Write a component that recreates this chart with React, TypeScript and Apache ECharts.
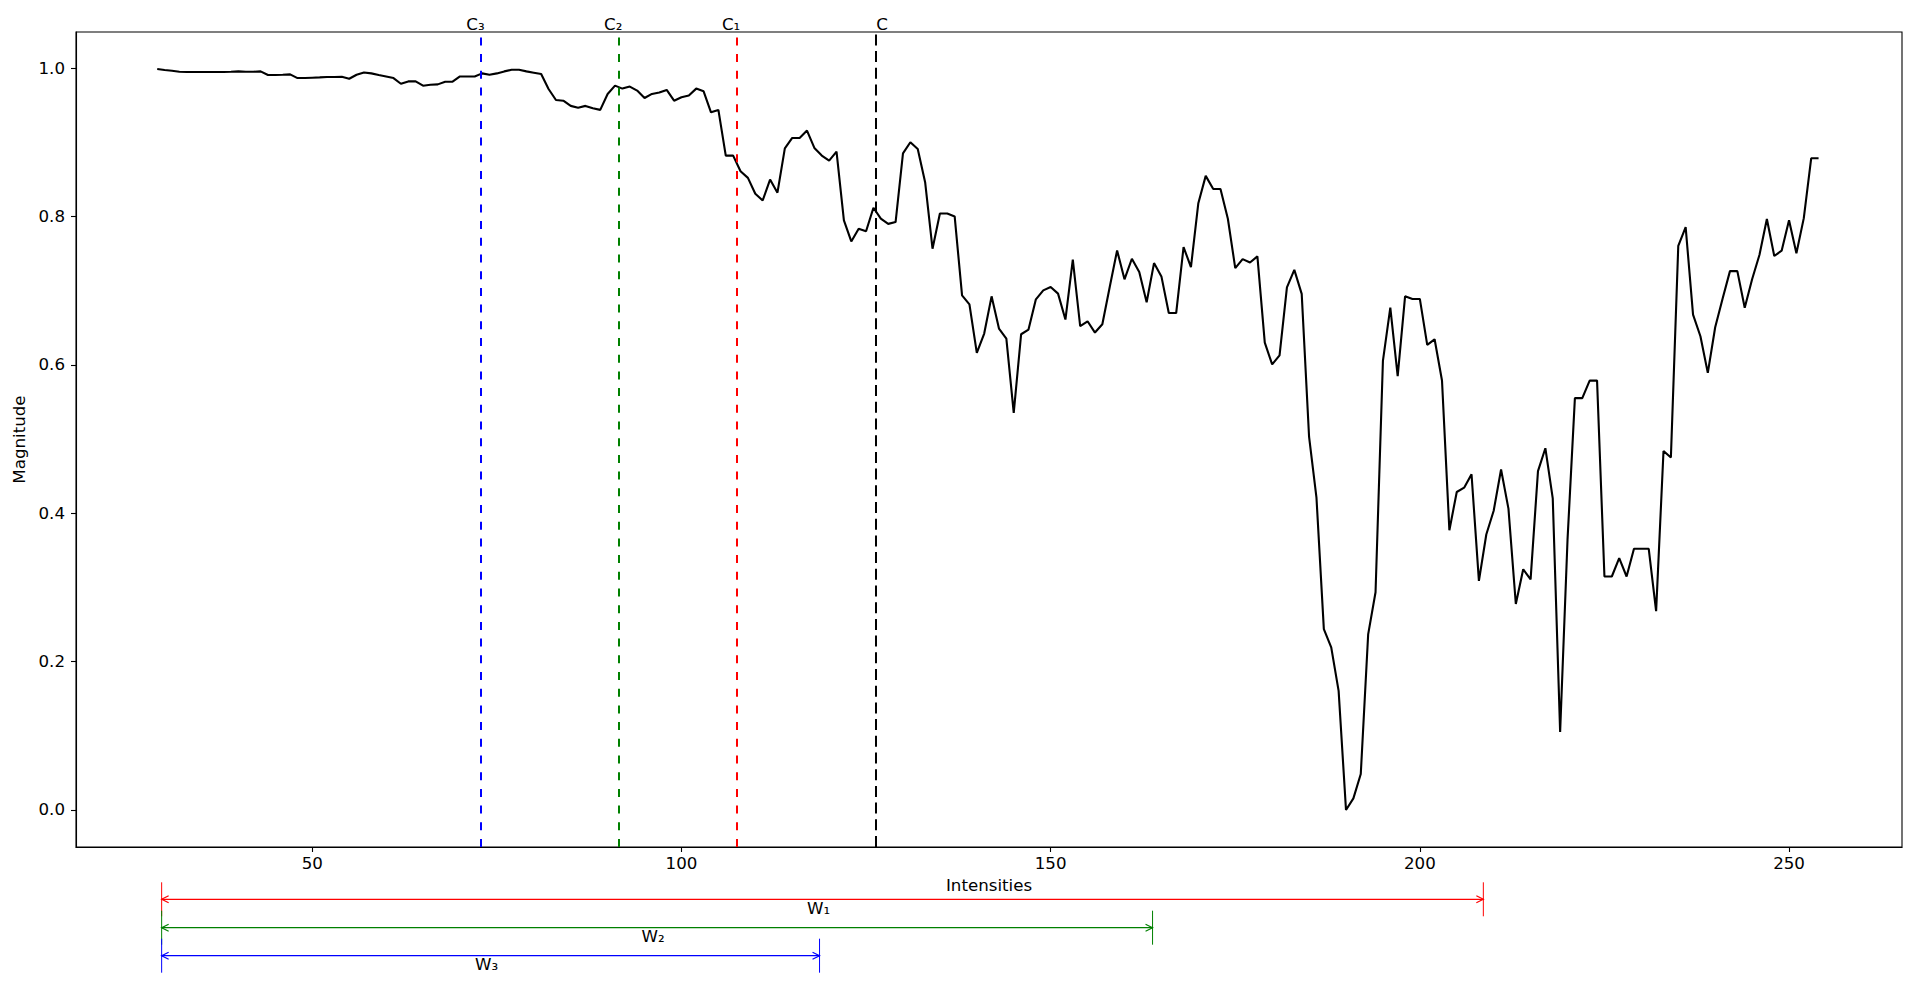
import React, { useEffect, useRef } from "react";
import * as echarts from "echarts";

// ---------- data ----------
const intensityStart = 29; // first intensity value; one sample per integer intensity
const magnitudes = [
  0.9987, 0.9973, 0.9964, 0.995, 0.9946, 0.9946, 0.9946, 0.9946, 0.9946, 0.9946,
  0.995, 0.9955, 0.995, 0.995, 0.9955, 0.9906, 0.9906, 0.991, 0.9915, 0.9865,
  0.9865, 0.987, 0.9874, 0.9879, 0.9879, 0.9883, 0.9856, 0.991, 0.9941, 0.9928,
  0.9906, 0.9887, 0.9865, 0.9789, 0.982, 0.982, 0.9762, 0.9775, 0.978, 0.9816,
  0.9816, 0.9887, 0.9887, 0.9887, 0.9928, 0.991, 0.9928, 0.9955, 0.9977, 0.9977,
  0.9955, 0.9937, 0.9919, 0.9718, 0.9569, 0.956, 0.949, 0.9466, 0.949, 0.9457,
  0.9436, 0.9651, 0.9763, 0.9723, 0.975, 0.9696, 0.9597, 0.9651, 0.967, 0.9705,
  0.956, 0.9606, 0.963, 0.9723, 0.9687, 0.9403, 0.9436, 0.882, 0.882, 0.861,
  0.852, 0.8305, 0.8215, 0.8497, 0.832, 0.8918, 0.9058, 0.9058, 0.9157, 0.8923,
  0.882, 0.8753, 0.8874, 0.7948, 0.7663, 0.7834, 0.78, 0.8117, 0.797, 0.79,
  0.7924, 0.8851, 0.9, 0.891, 0.8461, 0.7565, 0.804, 0.804, 0.8, 0.6937,
  0.6815, 0.616, 0.6422, 0.6923, 0.6489, 0.6354, 0.5353, 0.6412, 0.6475, 0.6883,
  0.7004, 0.7048, 0.696, 0.661, 0.7417, 0.652, 0.6587, 0.6435, 0.6547, 0.7048,
  0.7542, 0.7152, 0.743, 0.725, 0.6843, 0.7371, 0.7192, 0.6698, 0.6698, 0.7587,
  0.7317, 0.8178, 0.8547, 0.8372, 0.837, 0.7969, 0.7304, 0.7425, 0.738, 0.7461,
  0.63, 0.6005, 0.6127, 0.7045, 0.7279, 0.6957, 0.5028, 0.4209, 0.2437, 0.2191,
  0.1606, 0.0, 0.0156, 0.0484, 0.2366, 0.2934, 0.6052, 0.6771, 0.5847, 0.6923,
  0.6888, 0.6888, 0.6268, 0.6344, 0.5789, 0.3771, 0.4286, 0.4344, 0.4525, 0.3087,
  0.3713, 0.4033, 0.4589, 0.4062, 0.2776, 0.3244, 0.3109, 0.4567, 0.4876, 0.42,
  0.1051, 0.364, 0.5551, 0.5551, 0.5787, 0.5787, 0.3147, 0.3147, 0.3394, 0.3147,
  0.352, 0.352, 0.352, 0.268, 0.4838, 0.475, 0.7604, 0.7856, 0.6676, 0.6385,
  0.5891, 0.6506, 0.689, 0.7263, 0.7263, 0.677, 0.7154, 0.7483, 0.7966, 0.7467,
  0.7538, 0.795, 0.7505, 0.7977, 0.8784, 0.8784,
];

const xTicks = [50, 100, 150, 200, 250];
const yTicks = [0.0, 0.2, 0.4, 0.6, 0.8, 1.0];
const xRange = [18.0, 265.3];
const yRange = [-0.0499, 1.0486];

// vertical reference lines
const centerLabels = ["C₃", "C₂", "C₁", "C"];
const centerValues = [72.78, 91.47, 107.44, 126.26];
const centerColors = ["#0000ff", "#008000", "#ff0000", "#000000"];

// width arrows below the axis
const widthLabels = ["W₁", "W₂", "W₃"];
const widthStart = 29.6;
const widthEnds = [208.6, 163.8, 118.7];
const widthColors = ["#ff0000", "#008000", "#0000ff"];

const FONT = "DejaVu Sans";
const FS = 16.67;

export default function App() {
  const ref = useRef<HTMLDivElement>(null);

  useEffect(() => {
    if (!ref.current) return;
    const chart = echarts.init(ref.current, null, { renderer: "svg" });
    const seriesData = magnitudes.map((v, i) => [intensityStart + i, v]);

    chart.setOption({
      animation: false,
      backgroundColor: "#ffffff",
      textStyle: { fontFamily: FONT },
      grid: {
        left: 76,
        right: 18,
        top: 32,
        bottom: 136,
        show: true,
        borderColor: "#000000",
        borderWidth: 1.1,
        backgroundColor: "transparent",
      },
      xAxis: {
        type: "value",
        min: xRange[0],
        max: xRange[1],
        name: "Intensities",
        nameLocation: "middle",
        nameGap: 29,
        nameTextStyle: { fontFamily: FONT, fontSize: FS, color: "#000" },
        axisLine: { show: true, onZero: false, lineStyle: { color: "#000", width: 1.1 } },
        axisTick: { show: true, inside: false, length: 5, customValues: xTicks, lineStyle: { color: "#000", width: 1.1 } },
        axisLabel: {
          show: true,
          customValues: xTicks,
          margin: 8,
          fontFamily: FONT,
          fontSize: FS,
          color: "#000",
          formatter: (v: number) => String(v),
        },
        splitLine: { show: false },
      },
      yAxis: {
        type: "value",
        min: yRange[0],
        max: yRange[1],
        name: "Magnitude",
        nameLocation: "middle",
        nameGap: 37,
        nameRotate: 90,
        nameTextStyle: { fontFamily: FONT, fontSize: FS, color: "#000" },
        axisLine: { show: true, onZero: false, lineStyle: { color: "#000", width: 1.1 } },
        axisTick: { show: true, inside: false, length: 5, customValues: yTicks, lineStyle: { color: "#000", width: 1.1 } },
        axisLabel: {
          show: true,
          customValues: yTicks,
          margin: 11,
          fontFamily: FONT,
          fontSize: FS,
          color: "#000",
          formatter: (v: number) => v.toFixed(1),
        },
        splitLine: { show: false },
      },
      series: [
        {
          type: "line",
          data: seriesData,
          showSymbol: false,
          symbol: "none",
          lineStyle: { color: "#000000", width: 2.1 },
          z: 3,
          markLine: {
            silent: true,
            symbol: ["none", "none"],
            label: { show: false },
            animation: false,
            data: centerValues.map((v, i) => ({
              xAxis: v,
              lineStyle: {
                color: centerColors[i],
                width: 2,
                type: i === 3 ? [11, 5.7] : [8, 8.7],
              },
            })),
          },
        },
      ],
    });

    const px = (v: number) => chart.convertToPixel({ xAxisIndex: 0 }, v) as number;
    const graphics: any[] = [];

    // labels above the vertical lines
    const labelShift = [-5, -5.3, -5.3, 6.7];
    centerValues.forEach((v, i) => {
      graphics.push({
        type: "text",
        x: px(v) + labelShift[i],
        y: 24.3,
        style: {
          text: centerLabels[i],
          fontFamily: FONT,
          fontSize: FS,
          fill: "#000",
          align: "center",
          verticalAlign: "middle",
        },
      });
    });

    // width arrows
    const arrowY = [899.3, 927.7, 955.7];
    const halfBar = 17;
    const hl = 7;
    const hw = 3.5;
    widthEnds.forEach((end, i) => {
      const x0 = px(widthStart);
      const x1 = px(end);
      const y = arrowY[i];
      const c = widthColors[i];
      const ls = { stroke: c, lineWidth: 1.2, fill: "none" };
      graphics.push({ type: "line", shape: { x1: x0, y1: y - halfBar, x2: x0, y2: y + halfBar }, style: { stroke: c, lineWidth: 1 } });
      graphics.push({ type: "line", shape: { x1: x1, y1: y - halfBar, x2: x1, y2: y + halfBar }, style: { stroke: c, lineWidth: 1 } });
      graphics.push({ type: "line", shape: { x1: x0, y1: y, x2: x1, y2: y }, style: ls });
      graphics.push({ type: "polyline", shape: { points: [[x0 + hl, y - hw], [x0, y], [x0 + hl, y + hw]] }, style: ls });
      graphics.push({ type: "polyline", shape: { points: [[x1 - hl, y - hw], [x1, y], [x1 - hl, y + hw]] }, style: ls });
      graphics.push({
        type: "text",
        x: (x0 + x1) / 2 - 4,
        y: y + 9,
        style: {
          text: widthLabels[i],
          fontFamily: FONT,
          fontSize: FS,
          fill: "#000",
          align: "center",
          verticalAlign: "middle",
        },
      });
    });

    chart.setOption({ graphic: graphics });

    return () => chart.dispose();
  }, []);

  return (
    <div
      ref={ref}
      style={{ position: "fixed", left: 0, top: 0, width: "1920px", height: "983px", background: "#fff" }}
    />
  );
}
